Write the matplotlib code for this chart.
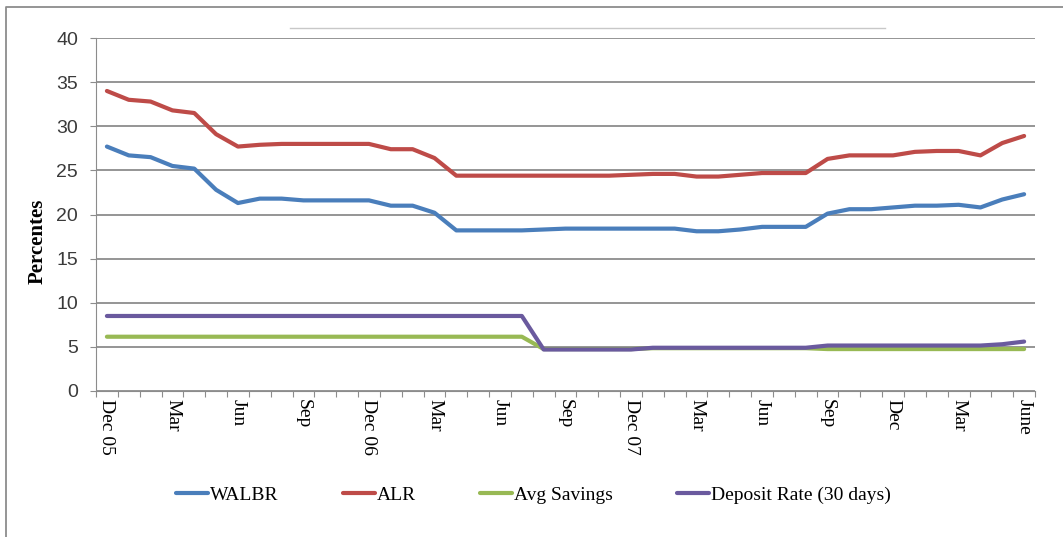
import matplotlib
matplotlib.use("Agg")
import matplotlib.pyplot as plt
import numpy as np

months = ["Dec 05", "Jan", "Feb", "Mar", "Apr", "May", "Jun", "Jul", "Aug", "Sep", "Oct", "Nov",
          "Dec 06", "Jan", "Feb", "Mar", "Apr", "May", "Jun", "Jul", "Aug", "Sep", "Oct", "Nov",
          "Dec 07", "Jan", "Feb", "Mar", "Apr", "May", "Jun", "Jul", "Aug", "Sep", "Oct", "Nov",
          "Dec", "Jan", "Feb", "Mar", "Apr", "May", "June"]
walbr = [27.7, 26.7, 26.5, 25.5, 25.2, 22.8, 21.3, 21.8, 21.8, 21.6, 21.6, 21.6,
         21.6, 21.0, 21.0, 20.2, 18.2, 18.2, 18.2, 18.2, 18.3, 18.4, 18.4, 18.4,
         18.4, 18.4, 18.4, 18.1, 18.1, 18.3, 18.6, 18.6, 18.6, 20.1, 20.6, 20.6,
         20.8, 21.0, 21.0, 21.1, 20.8, 21.7, 22.3]
alr = [34.0, 33.0, 32.8, 31.8, 31.5, 29.1, 27.7, 27.9, 28.0, 28.0, 28.0, 28.0,
       28.0, 27.4, 27.4, 26.4, 24.4, 24.4, 24.4, 24.4, 24.4, 24.4, 24.4, 24.4,
       24.5, 24.6, 24.6, 24.3, 24.3, 24.5, 24.7, 24.7, 24.7, 26.3, 26.7, 26.7,
       26.7, 27.1, 27.2, 27.2, 26.7, 28.1, 28.9]
avg_savings = [6.15] * 20 + [4.75] * 5 + [4.85] * 8 + [4.75] * 10
deposit_30 = [8.5] * 20 + [4.7] * 5 + [4.9] * 8 + [5.15] * 8 + [5.3, 5.6]
series = [("WALBR", walbr, "#4a7ebb"), ("ALR", alr, "#be4b48"),
          ("Avg Savings", avg_savings, "#98b954"), ("Deposit Rate (30 days)", deposit_30, "#6a5a9e")]

fig = plt.figure(figsize=(10.63, 5.37), dpi=100)
ax = fig.add_axes([0.0903, 0.2719, 0.8834, 0.6573])
x = np.arange(len(months))
for name, vals, c in series:
    ax.plot(x, vals, color=c, lw=3, label=name, solid_capstyle="round", solid_joinstyle="round")

ax.set_xlim(-0.5, len(months) - 0.5)
ax.set_ylim(0, 40)
ax.set_yticks(range(0, 41, 5))
ax.grid(True, axis="y", color="#8c8c8c", lw=1.3)
ax.set_axisbelow(True)
for s in ["top", "right"]: ax.spines[s].set_visible(False)
ax.spines["left"].set_color("#8c8c8c"); ax.spines["bottom"].set_color("#8c8c8c")
ax.tick_params(axis="y", length=4, color="#8c8c8c", labelsize=14, labelcolor="#3a3a3a", pad=9)
for t in ax.get_yticklabels(): t.set_family("Liberation Sans")

# tick marks between categories, labels every 3 months
ax.set_xticks(np.arange(-0.5, len(months), 1))
ax.set_xticklabels([])
ax.tick_params(axis="x", which="major", length=4, color="#8c8c8c")
ax.set_xticks(x[::3], minor=True)
ax.set_xticklabels(months[::3], minor=True, rotation=270, family="Liberation Serif", fontsize=14)
ax.tick_params(axis="x", which="minor", length=0, pad=6)

ax.set_ylabel("Percentes", family="Liberation Serif", fontweight="bold", fontsize=15)
ax.yaxis.set_label_coords(-0.051, 0.425)

fig.legend(loc="center", bbox_to_anchor=(0.502, 0.078), ncol=4, frameon=False,
           prop={"family": "Liberation Serif", "size": 14}, handlelength=1.65,
           handletextpad=0.1, columnspacing=3.3)

# outer chart frame and stray title line
fig.add_artist(plt.Line2D([6/1063, 6/1063, 1.0], [0.0, 1 - 7/537, 1 - 7/537], color="#8c8c8c", lw=1.3, transform=fig.transFigure))
fig.add_artist(plt.Line2D([290/1063, 885/1063], [1 - 28/537, 1 - 28/537], color="#c8c8c8", lw=1.0, transform=fig.transFigure))

plt.savefig("out.png", dpi=100)
plt.close()
